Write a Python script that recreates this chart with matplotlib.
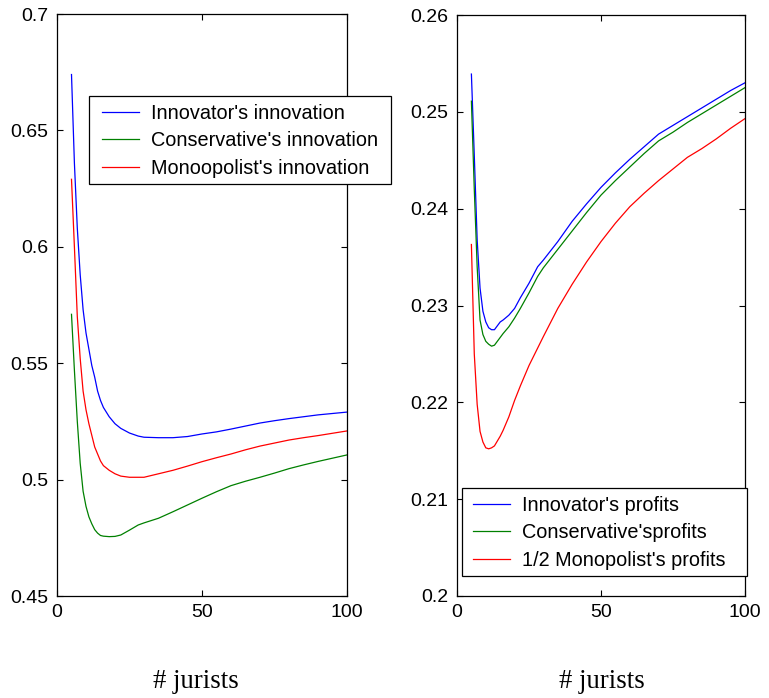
import matplotlib
matplotlib.use("Agg")
import matplotlib.pyplot as plt
from matplotlib.patches import Rectangle

plt.rcParams['font.family'] = ['Liberation Sans', 'DejaVu Sans']

# ---- data ----
x_left = [5, 6, 7, 8, 9, 10, 11, 12, 13, 14, 15, 16, 18, 20, 22, 25, 28, 30,
          35, 40, 45, 50, 55, 60, 65, 70, 75, 80, 85, 90, 95, 100]
innovator_innov = [0.674, 0.636, 0.608, 0.588, 0.573, 0.563, 0.556, 0.549, 0.544,
                   0.538, 0.534, 0.531, 0.527, 0.524, 0.522, 0.520, 0.5187, 0.5182,
                   0.518, 0.518, 0.5185, 0.5196, 0.5205, 0.5217, 0.523, 0.5243,
                   0.5253, 0.5262, 0.527, 0.5278, 0.5284, 0.529]
conservative_innov = [0.571, 0.547, 0.525, 0.507, 0.495, 0.4885, 0.484, 0.481, 0.4785,
                      0.477, 0.476, 0.4757, 0.4755, 0.4756, 0.4762, 0.4783, 0.4805,
                      0.4814, 0.4834, 0.4862, 0.4891, 0.492, 0.4948, 0.4974, 0.4993,
                      0.501, 0.5028, 0.5047, 0.5063, 0.5078, 0.5092, 0.5106]
monopolist_innov = [0.629, 0.600, 0.570, 0.552, 0.538, 0.530, 0.524, 0.519, 0.514,
                    0.511, 0.508, 0.506, 0.504, 0.5025, 0.5015, 0.501, 0.501, 0.501,
                    0.5025, 0.504, 0.5058, 0.5077, 0.5094, 0.511, 0.5128, 0.5144,
                    0.5157, 0.517, 0.518, 0.5189, 0.5199, 0.5209]

x_right = [5, 6, 7, 8, 9, 10, 11, 12, 13, 14, 15, 16, 18, 20, 22, 25, 28, 30,
           35, 40, 45, 50, 55, 60, 65, 70, 75, 80, 85, 90, 95, 100]
innovator_prof = [0.2539, 0.2455, 0.2368, 0.2318, 0.2294, 0.2283, 0.2277, 0.2275,
                  0.2275, 0.2279, 0.2283, 0.2285, 0.2290, 0.2297, 0.2308, 0.2323,
                  0.2340, 0.2347, 0.2366, 0.2387, 0.2405, 0.2422, 0.2437, 0.2451,
                  0.2464, 0.2477, 0.2486, 0.2495, 0.2504, 0.2513, 0.2522, 0.2530]
conservative_prof = [0.2511, 0.2420, 0.2340, 0.2285, 0.2270, 0.2263, 0.2260, 0.2258,
                     0.2259, 0.2263, 0.2267, 0.2271, 0.2278, 0.2287, 0.2297, 0.2313,
                     0.2330, 0.2339, 0.2358, 0.2377, 0.2396, 0.2414, 0.2429, 0.2443,
                     0.2457, 0.2470, 0.2479, 0.2489, 0.2498, 0.2507, 0.2516, 0.2525]
half_monopolist_prof = [0.2363, 0.2250, 0.2198, 0.2170, 0.2159, 0.2153, 0.2152, 0.2153,
                        0.2155, 0.2160, 0.2165, 0.2171, 0.2185, 0.2202, 0.2217, 0.2238,
                        0.2256, 0.2268, 0.2297, 0.2322, 0.2345, 0.2366, 0.2385, 0.2402,
                        0.2416, 0.2429, 0.2441, 0.2453, 0.2462, 0.2472, 0.2483, 0.2493]

left_labels = ["Innovator's innovation", "Conservative's innovation", "Monoopolist's innovation"]
right_labels = ["Innovator's profits", "Conservative'sprofits", "1/2 Monopolist's profits"]
x_ticks = [0, 50, 100]
left_yticks = [0.45, 0.5, 0.55, 0.6, 0.65, 0.7]
left_yticklabels = ["0.45", "0.5", "0.55", "0.6", "0.65", "0.7"]
right_yticks = [0.2, 0.21, 0.22, 0.23, 0.24, 0.25, 0.26]
right_yticklabels = ["0.2", "0.21", "0.22", "0.23", "0.24", "0.25", "0.26"]
xlabel_text = "# jurists"

W, H = 769, 698
fig = plt.figure(figsize=(W / 100, H / 100), dpi=100)

def px_axes(l, t, r, b):
    return fig.add_axes([l / W, 1 - b / H, (r - l) / W, (b - t) / H])

axL = px_axes(57, 14, 347, 596)
axR = px_axes(457, 15, 745, 596)

colors = ['#0000ff', '#008000', '#ff0000']
lw = 0.9

for ax in (axL, axR):
    ax.tick_params(direction='in', length=4, width=0.8, top=True, right=True,
                   labelsize=14, pad=6, colors='black')
    for s in ax.spines.values():
        s.set_linewidth(0.9)
        s.set_color('black')
    ax.set_xlim(0, 100)
    ax.set_xticks(x_ticks)
    ax.set_xticklabels([str(v) for v in x_ticks])

for ys, c in zip([innovator_innov, conservative_innov, monopolist_innov], colors):
    axL.plot(x_left, ys, color=c, lw=lw)
axL.set_ylim(0.45, 0.7)
axL.set_yticks(left_yticks)
axL.set_yticklabels(left_yticklabels)

for ys, c in zip([innovator_prof, conservative_prof, half_monopolist_prof], colors):
    axR.plot(x_right, ys, color=c, lw=lw)
axR.set_ylim(0.2, 0.26)
axR.set_yticks(right_yticks)
axR.set_yticklabels(right_yticklabels)

# legend boxes (pixel extents of the reference frames)
def frame_box(l, t, r, b):
    rect = Rectangle((l / W, 1 - b / H), (r - l) / W, (b - t) / H,
                     transform=fig.transFigure, facecolor='white',
                     edgecolor='black', linewidth=0.9, zorder=5)
    fig.patches.append(rect)

frame_box(89, 96, 391, 184)
frame_box(461.5, 488, 746.5, 575.5)

legkw = dict(fontsize=14.3, frameon=False, borderaxespad=0, borderpad=0,
             handlelength=1.83, handletextpad=0.62, labelspacing=0.42,
             bbox_transform=fig.transFigure, loc='upper left')
legL = fig.legend(axL.lines, left_labels, bbox_to_anchor=(102.3 / W, 1 - 104 / H), **legkw)
legR = fig.legend(axR.lines, right_labels, bbox_to_anchor=(473.3 / W, 1 - 496 / H), **legkw)
for leg in (legL, legR):
    leg.set_zorder(6)
    for h in leg.legend_handles:
        h.set_linewidth(0.9)

fig.text(196 / W, 1 - 682 / H, xlabel_text, family=['Liberation Serif'], fontsize=19.3,
         ha='center', va='center')
fig.text(602 / W, 1 - 682 / H, xlabel_text, family=['Liberation Serif'], fontsize=19.3,
         ha='center', va='center')

fig.savefig("out.png", dpi=100)
